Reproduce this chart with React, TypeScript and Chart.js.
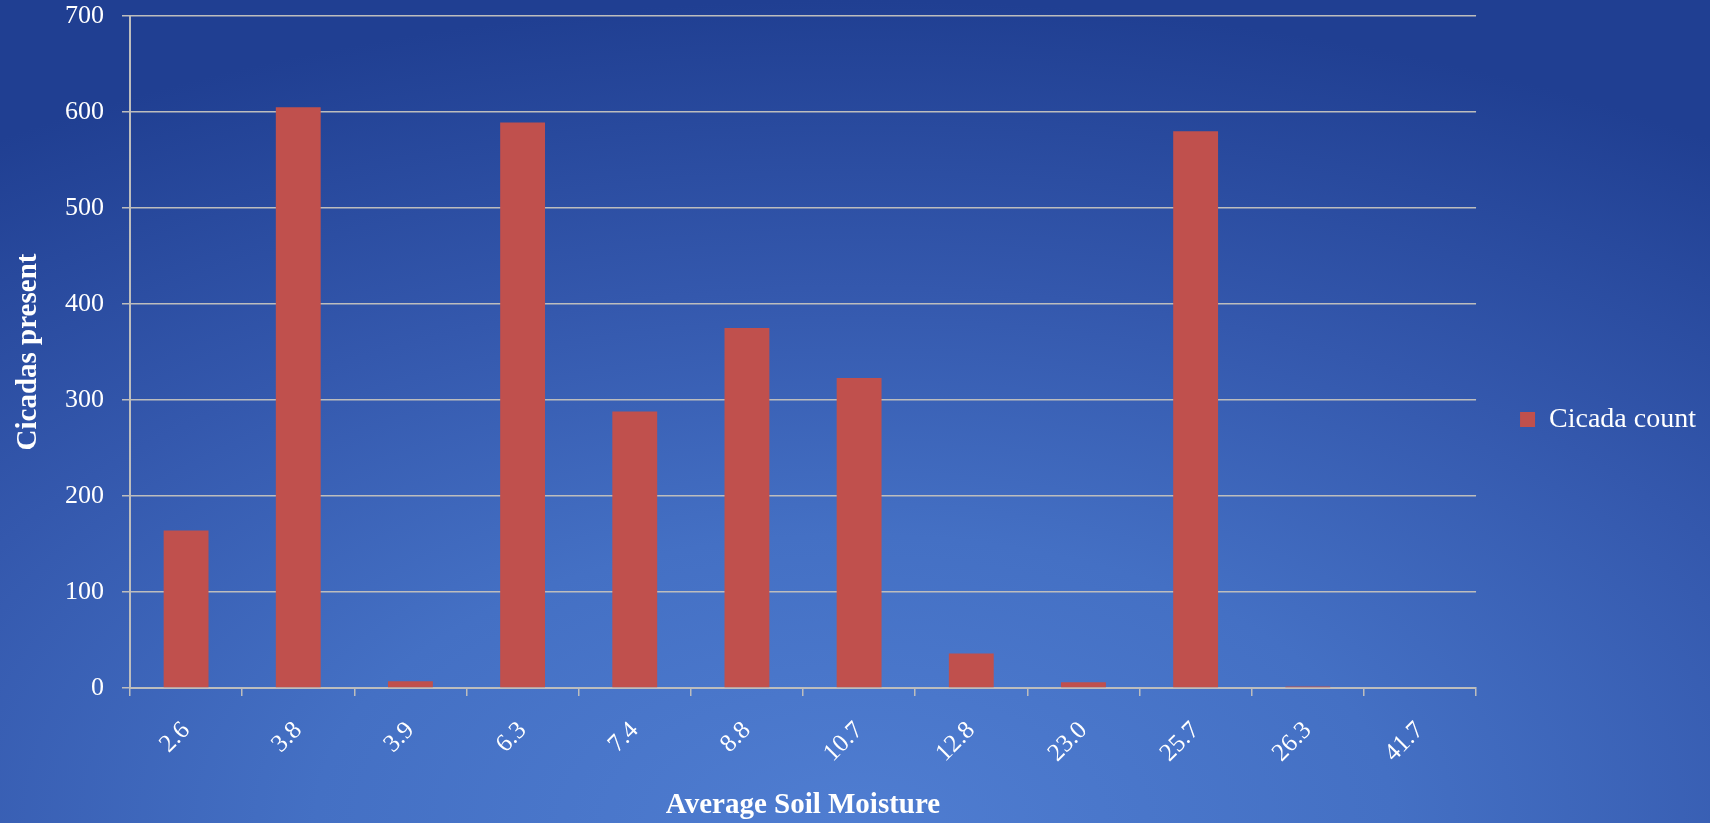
import React, { useEffect, useRef } from "react";
import { Chart, registerables } from "chart.js";

Chart.register(...registerables);

const categories = ["2.6", "3.8", "3.9", "6.3", "7.4", "8.8", "10.7", "12.8", "23.0", "25.7", "26.3", "41.7"];
const cicadaCount = [164, 605, 7, 589, 288, 375, 323, 36, 6, 580, 1.5, 0];
const seriesLabel = "Cicada count";
const xTitle = "Average Soil Moisture";
const yTitle = "Cicadas present";

const FONT = "'Liberation Serif', 'Times New Roman', serif";
const GRID = "#bdbdbd";
const BAR = "#c0504d";

export default function App() {
  const ref = useRef<HTMLCanvasElement | null>(null);

  useEffect(() => {
    document.body.style.margin = "0";
    const canvas = ref.current;
    if (!canvas) return;
    const chart = new Chart(canvas, {
      type: "bar",
      data: {
        labels: categories,
        datasets: [
          {
            label: seriesLabel,
            data: cicadaCount,
            backgroundColor: BAR,
            borderWidth: 0,
            barPercentage: 1,
            categoryPercentage: 0.4,
          },
        ],
      },
      options: {
        animation: false,
        responsive: false,
        maintainAspectRatio: false,
        layout: { autoPadding: false, padding: { top: 16, left: 11, right: 4, bottom: 0 } },
        plugins: {
          tooltip: { enabled: false },
          legend: {
            position: "right",
            align: "center",
            labels: {
              color: "#ffffff",
              boxWidth: 15,
              boxHeight: 15,
              font: { family: FONT, size: 28 },
              padding: 30,
            },
          },
        },
        scales: {
          x: {
            grid: {
              display: true,
              offset: true,
              drawOnChartArea: false,
              drawTicks: true,
              tickLength: 8,
              color: GRID,
              lineWidth: 1.5,
            },
            border: { display: true, color: GRID, width: 2 },
            ticks: {
              color: "#ffffff",
              font: { family: FONT, size: 25 },
              maxRotation: 45,
              minRotation: 45,
              autoSkip: false,
              padding: 20,
            },
            title: {
              display: true,
              text: xTitle,
              color: "#ffffff",
              font: { family: FONT, size: 29, weight: "bold" },
              padding: 0,
            },
            afterFit: (s: any) => {
              s.height = 823 - 688;
              s.paddingLeft = 0;
              s.paddingRight = 0;
            },
          },
          y: {
            min: 0,
            max: 700,
            grid: {
              color: GRID,
              lineWidth: 1.5,
              tickLength: 8,
            },
            border: { display: true, color: GRID, width: 2 },
            ticks: {
              stepSize: 100,
              color: "#ffffff",
              font: { family: FONT, size: 26 },
              padding: 18,
            },
            title: {
              display: true,
              text: yTitle,
              color: "#ffffff",
              font: { family: FONT, size: 29, weight: "bold" },
              padding: 0,
            },
            afterFit: (s: any) => {
              s.width = 130 - 11;
              s.paddingTop = 0;
              s.paddingBottom = 0;
            },
          },
          spacer: {
            type: "linear",
            position: "right",
            display: true,
            grid: { display: false, drawTicks: false },
            border: { display: false },
            ticks: { display: false },
            afterFit: (s: any) => {
              s.width = 14;
              s.paddingTop = 0;
              s.paddingBottom = 0;
            },
          },
        },
      },
    });
    return () => chart.destroy();
  }, []);

  return (
    <div
      style={{
        position: "fixed",
        left: 0,
        top: 0,
        width: 1710,
        height: 823,
        background:
          "radial-gradient(ellipse 90% 100% at 50% 100%, #4f7dd1 0%, #4470c4 35%, #3458ad 65%, #203f92 100%)",
      }}
    >
      <canvas ref={ref} width={1710} height={823} style={{ display: "block", width: 1710, height: 823 }} />
    </div>
  );
}
